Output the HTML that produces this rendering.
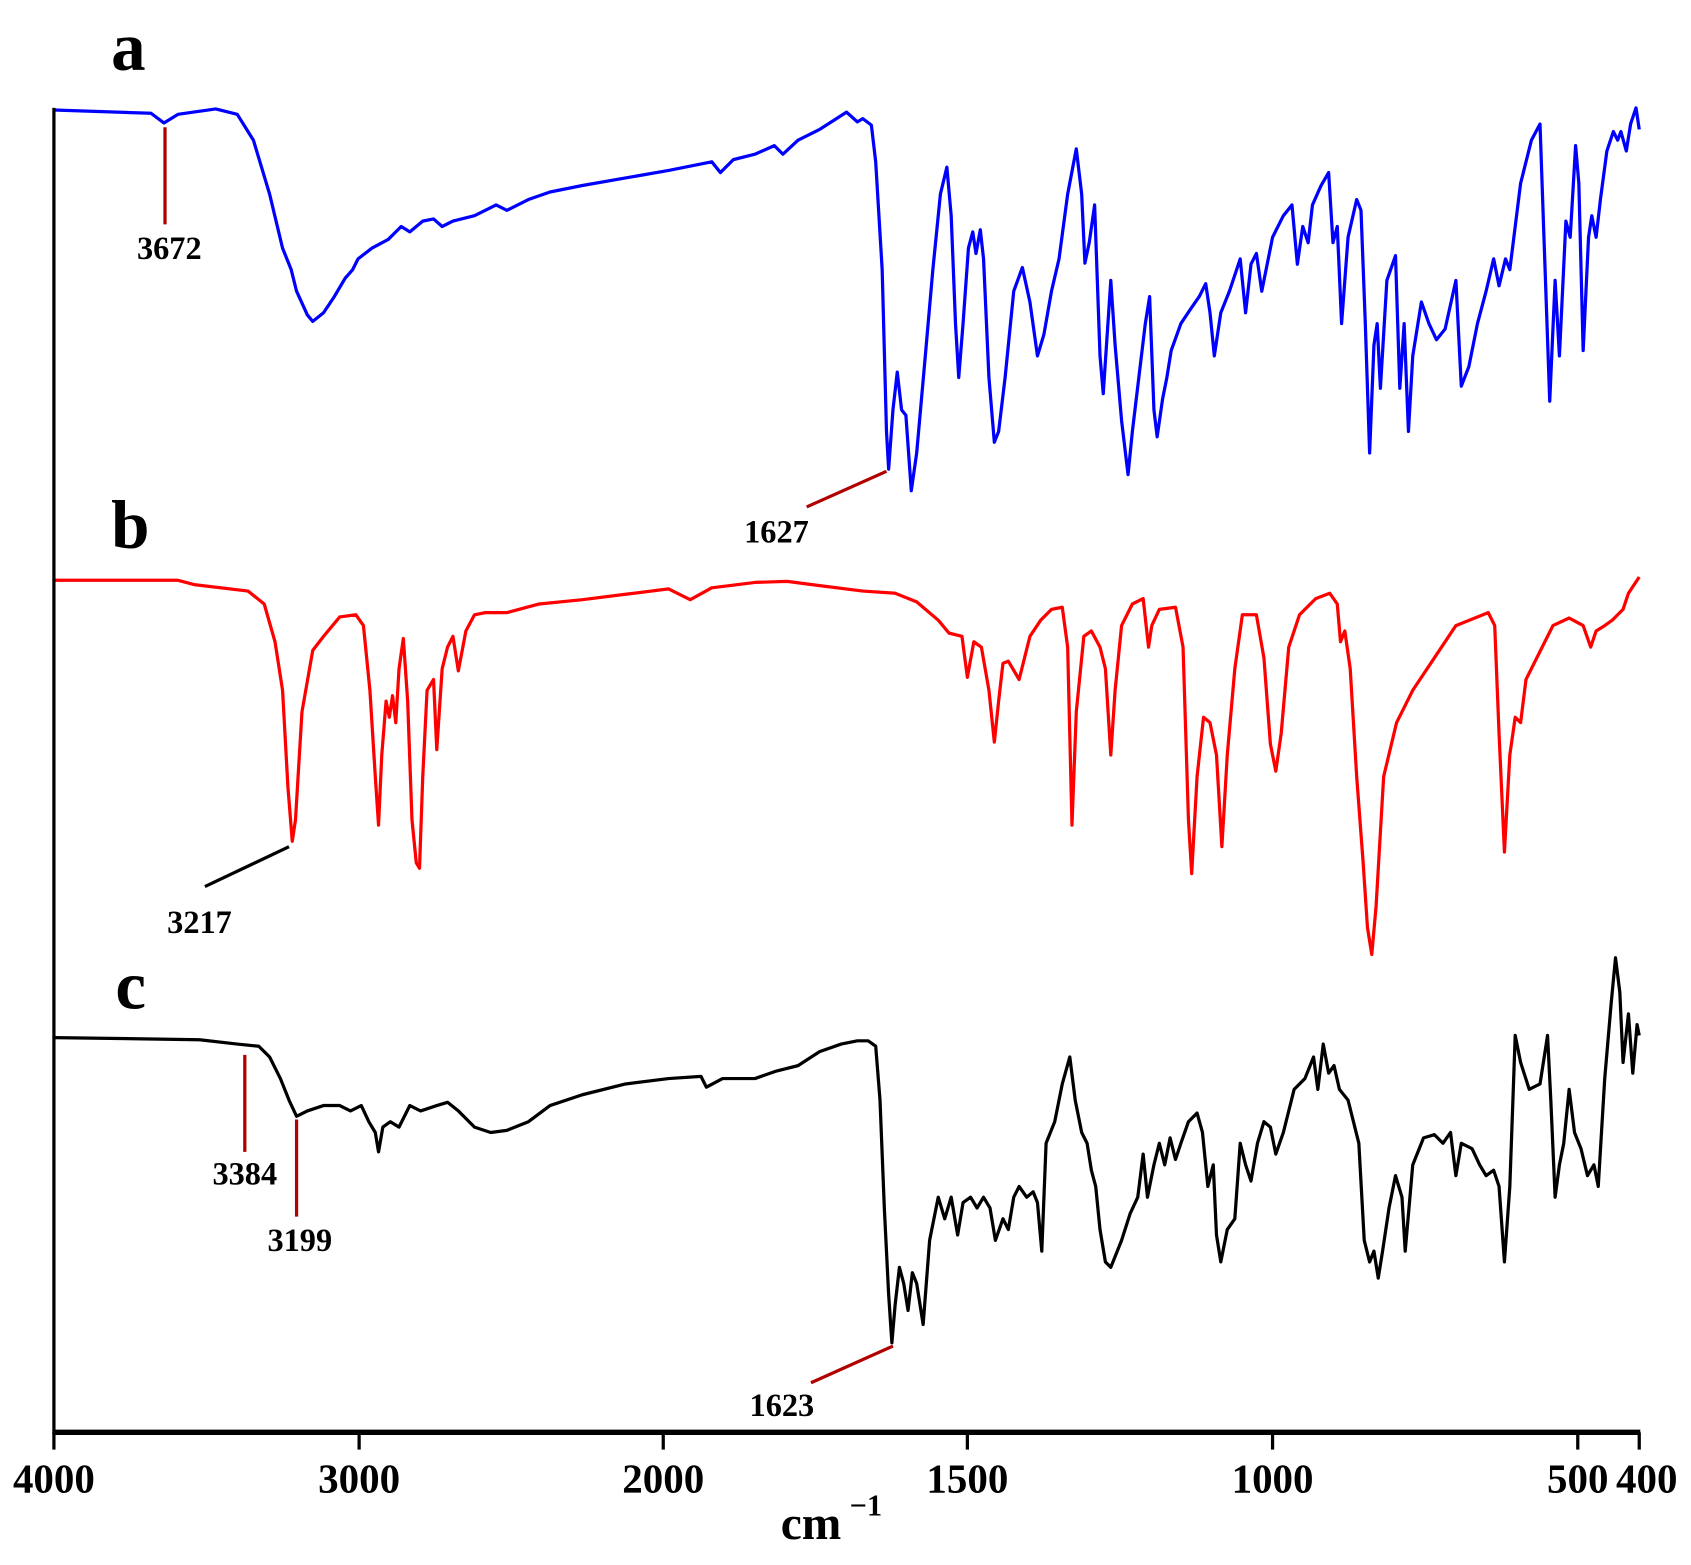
<!DOCTYPE html>
<html><head><meta charset="utf-8"><style>
html,body{margin:0;padding:0;background:#fff;}
svg{display:block;}
text{font-family:"Liberation Serif",serif;font-weight:bold;fill:#000;}
</style></head><body>
<svg width="1691" height="1565" viewBox="0 0 1568 1451" preserveAspectRatio="none" xmlns="http://www.w3.org/2000/svg">
<rect width="1568" height="1451" fill="#fff"/>
<text x="103" y="65" font-size="64">a</text>
<text x="103" y="508" font-size="64">b</text>
<text x="107" y="935" font-size="64">c</text>

<polyline fill="none" stroke="#0000ff" stroke-width="3" stroke-linejoin="round" points="50,102 140,105 152,114 165,106 200,101 220,106 235,130 250,180 262,230 270,250 275,270 285,292 290,298 300,290 310,275 320,258 327,250 332,240 345,230 360,222 372,210 380,215 392,205 402,203 410,210 420,205 440,200 460,190 470,195 490,185 510,178 540,172 580,165 620,158 660,150 668,160 680,148 700,143 718,135 726,143 740,130 760,120 785,104 795,113 800,110 808,116 812,150 818,250 822,400 824,435 828,380 832,345 836,380 840,385 845,455 850,420 858,330 865,250 872,180 878,155 882,200 886,300 889,350 893,300 898,230 902,215 905,235 909,213 912,240 917,350 922,410 926,400 932,350 940,270 948,248 955,280 962,330 968,310 975,270 982,240 990,180 998,138 1003,180 1006,244 1010,225 1015,190 1020,330 1023,365 1030,260 1034,320 1040,390 1046,440 1050,400 1056,350 1062,300 1066,275 1070,380 1073,405 1078,370 1082,350 1086,325 1095,300 1105,285 1112,275 1118,263 1122,290 1126,330 1132,290 1140,270 1150,240 1155,290 1160,245 1165,235 1170,270 1180,220 1190,200 1198,190 1203,245 1208,210 1213,225 1217,190 1225,172 1232,160 1236,225 1240,210 1244,300 1250,220 1258,185 1262,195 1266,300 1270,420 1274,320 1277,300 1280,360 1286,260 1294,237 1298,360 1302,300 1306,400 1310,330 1318,280 1325,300 1332,315 1340,305 1350,260 1355,358 1362,340 1370,300 1378,270 1385,240 1390,265 1396,240 1400,250 1410,170 1420,130 1428,115 1432,230 1437,372 1442,260 1446,330 1452,205 1456,220 1461,135 1464,170 1468,325 1473,220 1476,200 1480,220 1484,185 1490,140 1496,122 1500,130 1503,122 1508,140 1512,115 1517,100 1520,120"/>

<polyline fill="none" stroke="#ff0000" stroke-width="3" stroke-linejoin="round" points="50,538 165,538 180,542 230,548 245,560 255,595 262,640 267,730 271,780 274,760 280,660 290,603 300,590 315,572 330,570 337,580 343,640 348,720 351,765 354,700 358,650 361,665 364,645 367,670 370,620 374,592 378,650 382,760 386,800 389,805 392,720 396,640 402,630 405,695 410,620 415,600 420,590 425,622 432,585 440,570 450,568 470,568 500,560 540,556 580,551 620,546 640,556 660,545 700,540 730,539 760,543 800,548 830,550 850,558 870,575 880,587 892,590 897,628 903,595 910,600 917,640 922,688 926,650 930,615 935,613 945,630 955,590 965,575 975,565 985,563 990,600 994,765 998,660 1005,590 1012,585 1020,600 1025,620 1030,700 1034,640 1040,580 1050,560 1060,555 1065,600 1068,580 1075,565 1090,563 1097,600 1102,760 1105,810 1110,720 1116,665 1122,670 1128,700 1133,785 1138,700 1145,620 1152,570 1165,570 1172,610 1178,690 1183,715 1188,680 1195,600 1205,570 1220,555 1233,550 1240,560 1243,595 1247,585 1252,620 1258,720 1264,800 1268,860 1272,885 1276,840 1283,720 1295,670 1310,640 1330,610 1350,580 1380,568 1386,580 1390,680 1395,790 1400,700 1405,665 1410,670 1415,630 1420,620 1430,600 1440,580 1455,573 1468,580 1475,600 1480,585 1488,580 1495,575 1500,570 1505,565 1510,550 1520,535"/>

<polyline fill="none" stroke="#000" stroke-width="3" stroke-linejoin="round" points="50,962 185,964 220,968 240,970 250,980 260,1000 268,1020 275,1035 285,1030 300,1025 315,1025 325,1030 335,1025 342,1040 348,1050 351,1068 355,1045 362,1040 370,1045 380,1025 390,1030 405,1025 415,1022 425,1030 440,1045 455,1050 470,1048 490,1040 510,1025 540,1015 580,1005 620,1000 650,998 655,1008 670,1000 700,1000 720,993 740,988 760,975 780,968 795,965 805,965 812,970 816,1020 820,1120 824,1200 827,1245 830,1210 834,1175 838,1190 842,1215 846,1180 850,1190 856,1228 862,1150 870,1110 876,1130 882,1110 888,1145 893,1115 900,1110 906,1120 912,1110 918,1120 923,1150 930,1130 935,1140 940,1110 945,1100 952,1110 958,1105 962,1115 966,1160 970,1060 978,1040 985,1005 992,980 997,1020 1003,1050 1008,1060 1012,1085 1016,1100 1020,1140 1025,1170 1030,1175 1040,1150 1048,1125 1055,1110 1060,1070 1064,1110 1070,1080 1075,1060 1080,1080 1085,1055 1090,1075 1095,1060 1102,1040 1110,1032 1115,1050 1120,1100 1125,1080 1128,1145 1132,1170 1138,1140 1145,1130 1150,1060 1155,1080 1160,1095 1166,1060 1172,1040 1178,1045 1183,1070 1190,1050 1200,1010 1210,1000 1218,980 1222,1010 1227,968 1232,995 1237,988 1242,1010 1250,1020 1260,1060 1265,1150 1270,1170 1274,1160 1278,1185 1282,1160 1288,1120 1294,1090 1300,1110 1303,1160 1310,1080 1320,1055 1330,1052 1338,1060 1345,1050 1350,1090 1355,1060 1365,1065 1372,1080 1378,1090 1385,1085 1390,1100 1395,1170 1400,1100 1405,960 1410,985 1418,1010 1428,1005 1435,960 1438,1020 1442,1110 1446,1080 1450,1060 1455,1010 1460,1050 1466,1065 1472,1090 1478,1080 1482,1100 1488,1000 1494,930 1498,888 1502,920 1505,985 1510,940 1514,995 1518,950 1520,960"/>

<g stroke-width="3">
<line x1="153" y1="118" x2="153" y2="208" stroke="#b00000"/>
<line x1="822" y1="437" x2="748" y2="470" stroke="#b00000"/>
<line x1="268" y1="785" x2="190" y2="822" stroke="#000"/>
<line x1="227" y1="978" x2="227" y2="1068" stroke="#b00000"/>
<line x1="275" y1="1038" x2="275" y2="1128" stroke="#b00000"/>
<line x1="828" y1="1248" x2="752" y2="1282" stroke="#b00000"/>
</g>
<g font-size="30" text-anchor="middle">
<text x="157" y="240">3672</text>
<text x="720" y="503">1627</text>
<text x="185" y="865">3217</text>
<text x="227" y="1098">3384</text>
<text x="278" y="1160">3199</text>
<text x="725" y="1313">1623</text>
</g>

<line x1="50" y1="100" x2="50" y2="1330" stroke="#000" stroke-width="3"/>
<line x1="50" y1="1328" x2="1521" y2="1328" stroke="#000" stroke-width="5"/>
<g stroke="#000" stroke-width="3">
<line x1="50" y1="1328" x2="50" y2="1344"/>
<line x1="333" y1="1328" x2="333" y2="1344"/>
<line x1="615" y1="1328" x2="615" y2="1344"/>
<line x1="897" y1="1328" x2="897" y2="1344"/>
<line x1="1180" y1="1328" x2="1180" y2="1344"/>
<line x1="1463" y1="1328" x2="1463" y2="1344"/>
<line x1="1520" y1="1328" x2="1520" y2="1344"/>
</g>
<g font-size="38" text-anchor="middle">
<text x="50" y="1384">4000</text>
<text x="333" y="1384">3000</text>
<text x="615" y="1384">2000</text>
<text x="897" y="1384">1500</text>
<text x="1180" y="1384">1000</text>
<text x="1463" y="1384">500</text>
<text x="1527" y="1384">400</text>
</g>
<text x="752" y="1427" font-size="44" text-anchor="middle">cm</text>
<text x="788" y="1405" font-size="28">−1</text>
</svg>
</body></html>
